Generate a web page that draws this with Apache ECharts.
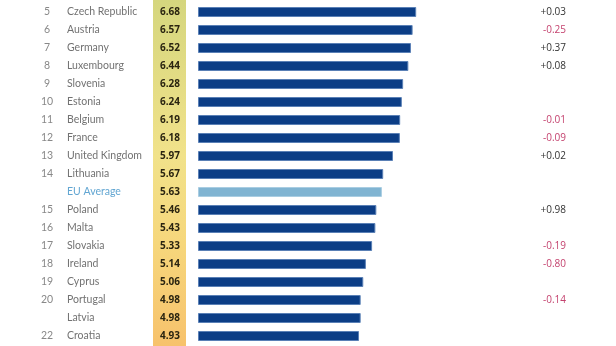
<!DOCTYPE html>
<html>
<head>
<meta charset="utf-8">
<script src="https://cdn.jsdelivr.net/npm/echarts@6/dist/echarts.min.js"></script>
<style>
  html, body { margin: 0; padding: 0; background: #ffffff; }
  #chart { width: 616px; height: 346px; }
</style>
</head>
<body>
<div id="chart"></div>
<script>
// Ranking rows, top to bottom
const ranks = ['5', '6', '7', '8', '9', '10', '11', '12', '13', '14', '', '15', '16', '17', '18', '19', '20', '', '22'];
const countries = ['Czech Republic', 'Austria', 'Germany', 'Luxembourg', 'Slovenia', 'Estonia', 'Belgium', 'France',
  'United Kingdom', 'Lithuania', 'EU Average', 'Poland', 'Malta', 'Slovakia', 'Ireland', 'Cyprus', 'Portugal', 'Latvia', 'Croatia'];
const scores = [6.68, 6.57, 6.52, 6.44, 6.28, 6.24, 6.19, 6.18, 5.97, 5.67, 5.63, 5.46, 5.43, 5.33, 5.14, 5.06, 4.98, 4.98, 4.93];
const changes = ['+0.03', '-0.25', '+0.37', '+0.08', '', '', '-0.01', '-0.09', '+0.02', '', '', '+0.98', '', '-0.19', '-0.80', '', '-0.14', '', ''];
const averageLabel = 'EU Average';

const FONT = '"Open Sans", "Noto Sans", sans-serif';
const NAME_FONT = 'Lato, "Open Sans", sans-serif';

const chart = echarts.init(document.getElementById('chart'), null, { renderer: 'canvas' });

const barData = scores.map((v, i) => ({
  value: v,
  itemStyle: countries[i] === averageLabel
    ? { color: '#80b4d2', borderColor: '#a9cde2', borderWidth: 1 }
    : { color: '#0c3e86', borderColor: '#5a80b6', borderWidth: 1 }
}));

const hiddenLine = { show: false };

chart.setOption({
  backgroundColor: '#ffffff',
  animation: false,
  graphic: [{
    // score column background, olive at the top fading to orange below
    type: 'rect',
    z: -10,
    shape: { x: 153, y: 0, width: 33, height: 346 },
    style: {
      fill: new echarts.graphic.LinearGradient(0, 0, 0, 1, [
        { offset: 0, color: '#d5d67e' },
        { offset: 0.45, color: '#f1e28a' },
        { offset: 0.7, color: '#f6d77c' },
        { offset: 1, color: '#f7c26c' }
      ])
    }
  }],
  grid: { left: 198, width: 325, top: 3, height: 342, containLabel: false },
  xAxis: {
    type: 'value', min: 0, max: 9.95,
    show: false
  },
  yAxis: [
    {
      // rank + country name
      type: 'category', inverse: true, data: countries,
      axisLine: hiddenLine, axisTick: hiddenLine, splitLine: hiddenLine,
      axisLabel: {
        align: 'left', margin: 161,
        formatter: (v, i) => countries[i] === averageLabel
          ? '{r|' + ranks[i] + '}{avg|' + v + '}'
          : '{r|' + ranks[i] + '}{n|' + v + '}',
        rich: {
          r: { width: 20, align: 'right', color: '#888888', fontSize: 10.5, fontFamily: NAME_FONT },
          n: { padding: [0, 0, 0, 10], color: '#727272', fontSize: 10.5, fontFamily: NAME_FONT },
          avg: { padding: [0, 0, 0, 10], color: '#62a6d2', fontSize: 10.5, fontFamily: NAME_FONT }
        }
      }
    },
    {
      // score column
      type: 'category', inverse: true, data: countries, position: 'left',
      axisLine: hiddenLine, axisTick: hiddenLine, splitLine: hiddenLine,
      axisLabel: {
        align: 'center', margin: 28,
        formatter: (v, i) => scores[i].toFixed(2),
        color: '#2a2410', fontSize: 10, fontWeight: 'bold', fontFamily: FONT
      }
    },
    {
      // change column
      type: 'category', inverse: true, data: countries, position: 'right',
      axisLine: hiddenLine, axisTick: hiddenLine, splitLine: hiddenLine,
      axisLabel: {
        align: 'right', margin: 43,
        formatter: (v, i) => {
          const c = changes[i];
          if (!c) return '';
          return c.charAt(0) === '-' ? '{neg|' + c + '}' : '{pos|' + c + '}';
        },
        rich: {
          pos: { color: '#333333', fontSize: 10, fontFamily: FONT },
          neg: { color: '#c4426e', fontSize: 10, fontFamily: FONT }
        }
      }
    }
  ],
  series: [{
    type: 'bar',
    yAxisIndex: 0,
    barWidth: 10,
    data: barData,
    silent: true
  }]
});
</script>
</body>
</html>
